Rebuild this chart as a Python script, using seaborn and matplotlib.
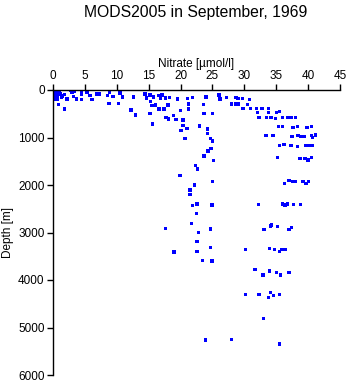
import matplotlib
matplotlib.use("Agg")
import matplotlib.pyplot as plt
import seaborn as sns
import pandas as pd

title = "MODS2005 in September, 1969"
x_label = "Nitrate [\u00b5mol/l]"
y_label = "Depth [m]"
x_ticks = [0, 5, 10, 15, 20, 25, 30, 35, 40, 45]
y_ticks = [0, 1000, 2000, 3000, 4000, 5000, 6000]

nitrate = [
    # surface cluster near zero
    0.1, 0.2, 0.3, 0.4, 0.5, 0.6, 0.8, 1.0, 1.2, 1.4, 0.2, 0.4, 0.7, 0.9, 1.1, 1.3, 0.3, 0.6, 1.5, 0.1,
    0.84, 1.8, 1.8, 2.2, 2.7, 3.0, 3.4, 3.2, 3.7, 4.5, 4.5, 4.5, 5.3, 5.8, 6.1, 6.9, 7.2,
    8.5, 8.9, 8.8, 9.4, 10.3, 10.5, 10.9, 12.2, 12.6, 12.9, 14.4, 14.7, 15.1,
    15.2, 15.3, 15.5, 15.2, 15.6, 15.8, 16.1, 16.5, 16.6, 16.9, 17.1, 17.4, 17.6, 17.7, 18.0,
    18.1, 18.3, 18.9, 19.3, 19.5, 20.0, 20.1, 20.4, 20.4, 20.7, 21.0, 21.1, 21.2, 21.2, 21.9,
    22.3, 22.7, 23.0, 23.6, 23.7, 23.7, 24.0, 24.2, 24.2, 24.3, 24.7, 24.8, 25.0, 25.0, 25.2,
    26.0, 26.2, 27.2, 28.0, 28.7, 28.7,
    29.0, 29.7, 30.8, 29.0, 30.5, 29.8, 31.0, 31.9, 32.8, 33.8, 32.1, 33.8, 35.0, 35.5,
    32.3, 33.5, 34.2, 34.9, 36.0, 36.8, 37.3, 38.0,
    35.4, 36.0, 37.6, 38.3, 39.8, 40.5,
    33.4, 34.5, 37.5, 38.4, 38.9, 39.4, 40.5, 40.7, 41.2,
    35.5, 36.2, 37.3, 38.3, 39.7, 40.2, 40.7,
    35.2, 38.7, 39.5, 40.0, 40.5,
    19.9, 22.2, 25.0, 21.5, 21.5, 22.6, 21.9, 24.9, 22.5, 21.7, 17.6, 24.7, 22.8, 22.6, 24.7,
    22.6, 19.0, 23.4, 24.9,
    36.3, 37.0, 37.6, 38.0, 39.2, 39.7, 40.1,
    32.2, 36.0, 36.4, 36.8, 37.7, 38.8,
    33.1, 34.1, 34.3, 35.2, 37.0, 37.4,
    30.2, 33.9, 34.7, 35.5, 35.9, 36.4,
    31.7, 32.9, 33.9, 35.0, 35.7, 37.0,
    30.2, 32.3, 33.8, 34.1, 34.6, 35.5,
    33.0, 35.5, 23.9, 28.0,
]
depth = [
    10, 30, 60, 90, 120, 150, 20, 50, 80, 110, 140, 170, 190, 40, 100, 160, 200, 70, 130, 180,
    300, 400, 100, 190, 0, 40, 20, 140, 190, 50, 100, 200, 50, 120, 200, 80, 80,
    120, 40, 290, 140, 290, 60, 150, 420, 150, 525, 80, 170, 490,
    105, 245, 330, 500, 715, 150, 315, 120, 400, 170, 105, 400, 170, 580, 315,
    610, 160, 540, 620, 190, 435, 855, 630, 750, 1020, 810, 175, 295, 400, 155,
    1590, 1660, 760, 300, 490, 1390, 150, 820, 910, 1285, 1020, 1230, 1075, 490, 1480,
    105, 190, 160, 295, 160, 295,
    175, 175, 195, 295, 300, 385, 385, 385, 385, 385, 475, 475, 475, 455,
    575, 575, 575, 600, 575, 575, 575, 575,
    770, 770, 785, 770, 785, 770,
    960, 960, 980, 960, 980, 980, 960, 1005, 950,
    1170, 1145, 1170, 1190, 1170, 1170, 1170,
    1425, 1440, 1440, 1475, 1425,
    1800, 2000, 1930, 2105, 2195, 2400, 2435, 2420, 2600, 2810, 2915, 2930, 3000, 3190, 3315,
    3400, 3410, 3595, 3600,
    1965, 1910, 1925, 1925, 1925, 1965, 1925,
    2410, 2400, 2420, 2400, 2410, 2410,
    2935, 2865, 2840, 2875, 2935, 2890,
    3355, 3335, 3355, 3400, 3355, 3355,
    3775, 3895, 3810, 3840, 3895, 3840,
    4300, 4300, 4370, 4260, 4330, 4300,
    4810, 5350, 5265, 5250,
]

df = pd.DataFrame({"nitrate": nitrate, "depth": depth})

sns.set_style("white")
plt.rcParams["font.family"] = ["Liberation Sans", "DejaVu Sans"]
plt.rcParams["text.color"] = "black"
plt.rcParams["axes.labelcolor"] = "black"
plt.rcParams["xtick.color"] = "black"
plt.rcParams["ytick.color"] = "black"

fig = plt.figure(figsize=(3.48, 3.84), dpi=100)
ax = fig.add_axes([53 / 348, 1 - 375 / 384, (340 - 53) / 348, (375 - 90) / 384])

sns.scatterplot(data=df, x="nitrate", y="depth", ax=ax, marker="s", s=6,
                color="#0000ff", edgecolor="none", linewidth=0, legend=False)

ax.set_xlim(0, 45)
ax.set_ylim(6000, 0)
ax.set_xticks(x_ticks)
ax.set_yticks(y_ticks)
ax.xaxis.tick_top()
ax.xaxis.set_label_position("top")
ax.set_xlabel(x_label, fontsize=8.5, labelpad=2)
ax.set_ylabel(y_label, fontsize=8.5, labelpad=3)
ax.tick_params(axis="both", which="major", labelsize=8.5, length=4, width=1,
               direction="out", color="black", labelcolor="black", pad=2)
ax.tick_params(axis="x", top=True, bottom=False)
ax.tick_params(axis="y", left=True, right=False)

for side in ["right", "bottom"]:
    ax.spines[side].set_visible(False)
for side in ["top", "left"]:
    ax.spines[side].set_visible(True)
    ax.spines[side].set_color("black")
    ax.spines[side].set_linewidth(1)

fig.text(196 / 348, 1 - 12 / 384, title, ha="center", va="center",
         fontsize=11.3, color="black")

fig.savefig("out.png", dpi=100)
